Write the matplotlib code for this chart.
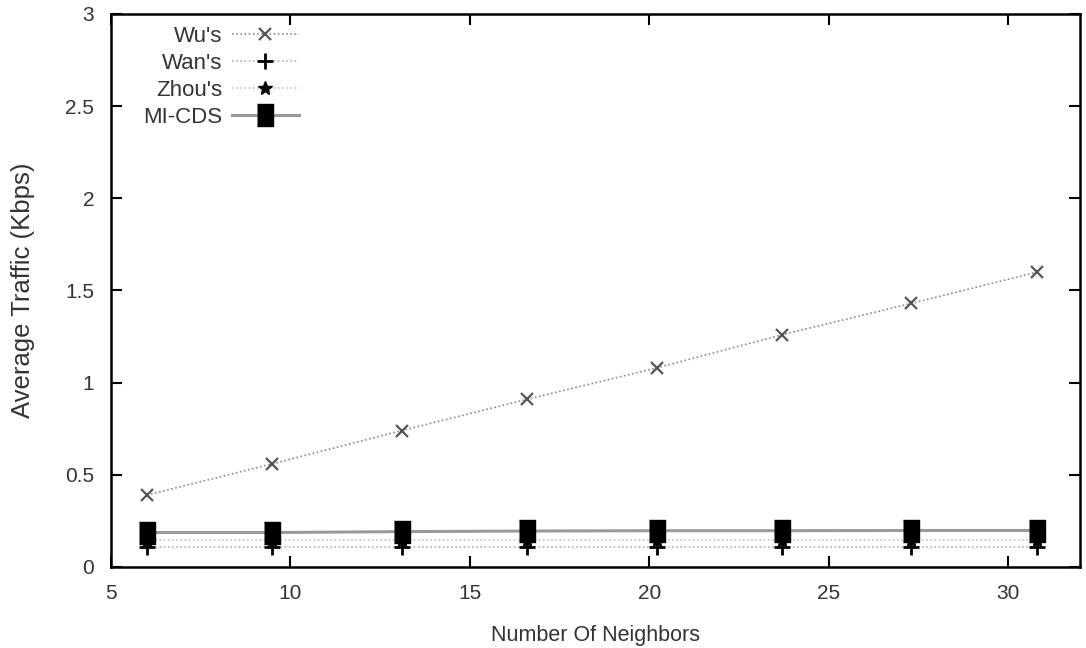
import matplotlib.pyplot as plt

plt.rcParams['font.family'] = ['Liberation Sans', 'DejaVu Sans']

# data
neighbors = [6.0, 9.5, 13.1, 16.6, 20.2, 23.7, 27.3, 30.8]
wu = [0.39, 0.56, 0.74, 0.91, 1.08, 1.26, 1.43, 1.60]
wan = [0.11, 0.11, 0.11, 0.11, 0.11, 0.11, 0.11, 0.11]
zhou = [0.145, 0.145, 0.145, 0.145, 0.145, 0.145, 0.145, 0.145]
mi_cds = [0.187, 0.187, 0.192, 0.195, 0.197, 0.197, 0.198, 0.198]

xticks = [5, 10, 15, 20, 25, 30]
yticks = [0, 0.5, 1, 1.5, 2, 2.5, 3]
ytick_labels = ['0', '0.5', '1', '1.5', '2', '2.5', '3']

# tall filled box, like the gnuplot square point
tall_box = [(-0.36, -0.5), (0.36, -0.5), (0.36, 0.5), (-0.36, 0.5)]

fig = plt.figure(figsize=(10.86, 6.48), dpi=100)
ax = fig.add_axes([0.1022, 0.125, 0.8923, 0.8534])

ax.plot(neighbors, wu, linestyle=(0, (1, 1.5)), color='#8a8a8a', linewidth=1.2,
        marker='x', markersize=8, markeredgewidth=1.6, markeredgecolor='#555555',
        label="Wu's")
ax.plot(neighbors, wan, linestyle=(0, (1, 1.5)), color='#b0b0b0', linewidth=1.2,
        marker='+', markersize=12, markeredgewidth=2.0, markeredgecolor='black',
        label="Wan's")
ax.plot(neighbors, zhou, linestyle=(0, (1, 1.5)), color='#c0c0c0', linewidth=1.2,
        marker='*', markersize=10, markerfacecolor='black', markeredgecolor='black',
        label="Zhou's")
ax.plot(neighbors, mi_cds, linestyle='-', color='#9a9a9a', linewidth=2.2,
        marker=tall_box, markersize=16, markerfacecolor='black', markeredgecolor='black',
        label='MI-CDS')

ax.set_xlim(5, 32)
ax.set_ylim(0, 3)
ax.set_xticks(xticks)
ax.set_yticks(yticks)
ax.set_yticklabels(ytick_labels)
ax.tick_params(direction='in', length=8, width=1.5, top=True, right=True,
               labelsize=15, colors='black', labelcolor='#333333')
ax.tick_params(axis='y', pad=12)
ax.tick_params(axis='x', pad=12)
for s in ax.spines.values():
    s.set_linewidth(1.8)

ax.set_xlabel('Number Of Neighbors', fontsize=15.5, color='#333333', labelpad=16)
ax.set_ylabel('Average Traffic (Kbps)', fontsize=18.5, color='#333333', labelpad=22)

leg = ax.legend(loc='upper left', bbox_to_anchor=(0.033, 0.979), frameon=False,
                markerfirst=False, fontsize=16, handlelength=3.0,
                handletextpad=0.45, labelspacing=0.27, borderaxespad=0,
                borderpad=0)
for t in leg.get_texts():
    t.set_color('#333333')

fig.savefig('out.png', dpi=100)
